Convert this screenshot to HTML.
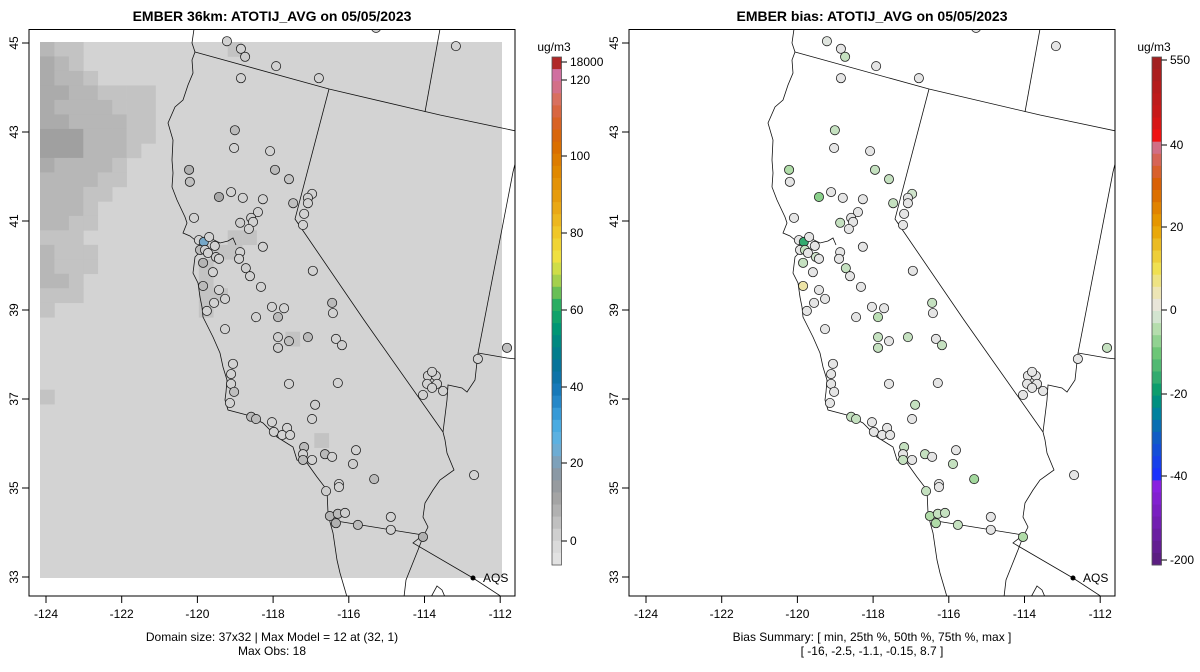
<!DOCTYPE html>
<html><head><meta charset="utf-8"><style>
body{margin:0;background:#fff}
svg{display:block;font-family:"Liberation Sans",sans-serif}
</style></head><body>
<svg id="root" width="1200" height="672" viewBox="0 0 1200 672" xmlns="http://www.w3.org/2000/svg">
<rect width="1200" height="672" fill="#fff"/>
</svg>
<script>
// ---- data ----
const siteLon=[-119.22,-118.85,-118.74,-117.92,-118.85,-116.79,-115.28,-113.17,-119.01,-119.03,-118.08,-117.95,-117.58,-120.22,-120.20,-119.43,-119.11,-118.80,-118.27,-117.47,-116.97,-117.08,-117.08,-117.18,-117.21,-118.40,-118.58,-118.53,-118.87,-118.64,-120.09,-119.96,-119.83,-119.69,-119.54,-119.93,-119.80,-119.72,-119.51,-119.43,-118.87,-118.90,-118.27,-119.85,-119.59,-118.72,-118.61,-116.95,-119.85,-119.43,-119.27,-119.56,-119.75,-118.32,-118.03,-117.71,-117.87,-118.45,-116.44,-116.42,-119.27,-117.87,-117.58,-117.87,-117.08,-116.34,-116.18,-119.06,-119.11,-119.11,-119.03,-119.14,-117.58,-116.29,-116.89,-116.97,-118.58,-118.45,-118.03,-117.98,-117.63,-117.76,-117.55,-117.18,-117.21,-117.21,-116.97,-116.63,-116.44,-115.81,-115.89,-115.33,-116.26,-116.26,-116.60,-116.50,-116.29,-116.10,-116.34,-115.76,-114.89,-114.89,-114.04,-114.04,-113.80,-113.91,-113.70,-113.93,-113.67,-113.80,-113.80,-113.51,-112.69,-112.59,-111.82];
const siteLat=[45.04,44.87,44.69,44.48,44.21,44.21,45.34,44.93,43.04,42.64,42.57,42.15,41.94,42.15,41.88,41.54,41.65,41.52,41.49,41.40,41.61,41.52,41.40,41.16,40.91,41.20,41.07,40.98,40.96,40.82,41.07,40.57,40.53,40.64,40.44,40.35,40.35,40.28,40.19,40.15,40.30,40.15,40.42,40.06,39.85,39.94,39.76,39.88,39.54,39.45,39.25,39.16,38.98,39.52,39.07,39.04,38.84,38.84,39.16,38.93,38.57,38.39,38.30,38.15,38.39,38.35,38.21,37.79,37.56,37.34,37.16,36.91,37.34,37.36,36.87,36.55,36.60,36.55,36.48,36.26,36.35,36.19,36.19,35.92,35.76,35.63,35.63,35.76,35.70,35.85,35.54,35.20,35.09,35.02,34.93,34.37,34.42,34.44,34.21,34.17,34.35,34.06,33.90,37.09,37.43,37.52,37.52,37.34,37.34,37.61,37.25,37.18,35.29,37.90,38.15];
const obsVal=[1,1,2,1,1,1,1,1,6,1,1,6,4,8,5,10,1,1,1,5,1,1,1,1,1,1,1,1,2,1,1,1,22,1,1,6,2,1,2,1,1,1,1,7,1,2,1,1,6,1,1,1,1,1,1,1,6,1,6,1,1,2,5,2,6,1,2,1,1,1,5,1,1,1,2,1,6,6,1,1,1,1,1,6,1,6,1,6,1,1,2,6,1,1,2,7,6,2,8,6,1,1,8,1,1,1,1,1,1,1,1,1,1,1,5];
const biasVal=[-0.5,0,-3,0,0,0,0,0,-3,0,0,-3,-3,-5,0,-8,0,0,0,-3,-2,0,0,0,0,0,0,0,-3,0,0,0,-16,0,0,0,-3,0,-2,0,0,0,0,-3,0,-3,0,0,5,0,0,0,0,0,0,0,-4,0,-3,0,0,-3,0,-3,-3,0,-3,0,0,0,0,0,0,0,-3,0,-3,-3,0,0,0,0,0,-3,0,-3,0,-3,0,0,-3,-6,0,0,-3,-5,-3,-3,-5,-3,0,0,-5,0,0,0,0,0,0,0,0,0,0,0,-3];
const rasterRows=["211","321","3221","33221111","32222111","33222211","44422211","4442221","322221","222211","22211","2221","2211","111","2111","2111","221","111","1","","","","","","1"];
const rasterExtra=[[0,13,1],[13,13,1],[13,14,1],[14,13,1],[15,11,1],[16,11,1],[17,11,1],[18,11,1],[17,12,1],[20,17,1],[27,19,1],[14,12,1]];
const latTicks=[33,35,37,39,41,43,45];
const lonTicks=[-124,-122,-120,-118,-116,-114,-112];
const obsBarTicks=[0,20,40,60,80,100,120];
const biasBarTicks=[-200,-40,-20,0,20,40,550];

// ---- helpers ----
const NS="http://www.w3.org/2000/svg";
const root=document.getElementById('root');
function mk(tag,attrs,parent){const e=document.createElementNS(NS,tag);for(const k in attrs)e.setAttribute(k,attrs[k]);(parent||root).appendChild(e);return e;}
function X(lon){return 46+(lon+124)*37.85;}
function Y(lat){return 577-(lat-33)*44.5;}
function hex(c){return [parseInt(c.substr(1,2),16),parseInt(c.substr(3,2),16),parseInt(c.substr(5,2),16)];}
function interp(stops,v){
  if(v<=stops[0][0])return stops[0][1];
  if(v>=stops[stops.length-1][0])return stops[stops.length-1][1];
  for(let i=0;i<stops.length-1;i++){const a=stops[i],b=stops[i+1];if(v>=a[0]&&v<=b[0]){const t=(v-a[0])/(b[0]-a[0]);const A=hex(a[1]),B=hex(b[1]);return 'rgb('+A.map((x,j)=>Math.round(x+(B[j]-x)*t)).join(',')+')';}}
}
const obsStops=[[-6,'#e5e5e5'],[0,'#d6d6d6'],[4,'#c4c4c4'],[8,'#b0b0b0'],[12,'#a0a0a0'],[16,'#8f979e'],[20,'#7fa0b8'],[24,'#6aaed8'],[28,'#55b3e6'],[32,'#3ca0db'],[38,'#1a7cc0'],[44,'#0a70a0'],[50,'#008088'],[56,'#009a70'],[62,'#30b060'],[66,'#8cc850'],[70,'#c8dc48'],[74,'#f0e040'],[80,'#f0c828'],[88,'#e8a010'],[96,'#e08800'],[104,'#d86800'],[110,'#d86030'],[115,'#d87060'],[120,'#d070a0'],[130,'#b02828']];
const biasStops=[[-200,'#5a1e80'],[-60,'#8a20e0'],[-40,'#1a30ff'],[-30,'#1060c0'],[-25,'#0080a0'],[-20,'#00986c'],[-15,'#40b070'],[-10,'#70c878'],[-5,'#b0dca8'],[-2,'#d0e4cc'],[0,'#e5e5e5'],[3,'#ece6c8'],[10,'#f0e050'],[20,'#e8a000'],[30,'#d86000'],[35,'#d86040'],[40,'#d07090'],[45,'#e83050'],[50,'#ff1010'],[200,'#cc1818'],[550,'#a02020']];
const rasterColors=['#d3d3d3','#c3c3c3','#b7b7b7','#ababab','#a0a0a0'];

const coast=[[194,29],[192,43],[195,52],[192,60],[193,73],[188,85],[183,100],[175,107],[168,123],[173,140],[172,160],[173,173],[172,187],[177,200],[185,217],[187,223],[183,233],[190,236],[195,240],[200,246],[202,250],[197,255],[195,257],[193,273],[198,283],[200,297],[202,307],[203,317],[208,327],[213,337],[220,353],[223,367],[227,380],[226,392],[225,400],[228,410],[247,415],[263,423],[277,437],[293,447],[297,460],[307,463],[317,477],[327,490],[328,513],[330,522],[333,533],[337,560],[340,573],[345,590],[347,597]];
const lines=[coast,
 [[199,240],[210,238],[220,243],[228,241],[233,238],[236,245]],
 [[195,52],[329,89],[440,115],[516,131]],
 [[329,89],[295,219],[364,320],[443,432]],
 [[443,432],[445,440],[447,453],[454,470],[440,480],[433,490],[425,503],[423,517],[428,527],[423,537],[418,550],[412,565],[406,580],[404,597]],
 [[330,520],[423,535]],
 [[423,535],[413,543],[473,578],[502,597]],
 [[443,432],[447,400],[448,385],[462,388],[467,392],[475,380],[478,353],[513,172],[516,160]],
 [[478,353],[507,358],[516,359]],
 [[440,29],[425,112]],
 [[431,597],[437,586],[442,590],[445,597]]];

function panel(off,isObs){
  const g=mk('g',{transform:'translate('+off+',0)'});
  
  
  const cid='clip'+off;
  const cp=mk('clipPath',{id:cid},g);mk('rect',{x:29,y:29.5,width:486,height:566.5},cp);
  const inner=mk('g',{'clip-path':'url(#'+cid+')'},g);
  if(isObs){
    const rg=mk('g',{},inner);
    
    
    const x0=40,y0=42,cw=(502-40)/32,ch=(578-42)/37;
    mk('rect',{x:x0,y:y0,width:462,height:536,fill:rasterColors[0]},rg);
    const cell=(r,c,l)=>{const e=mk('rect',{x:x0+c*cw,y:y0+r*ch,width:cw+0.3,height:ch+0.3,fill:rasterColors[l]},rg);};
    rasterRows.forEach((s,r)=>{for(let c=0;c<s.length;c++){const l=+s[c];if(l>0)cell(r,c,l);}});
    rasterExtra.forEach(a=>cell(a[0],a[1],a[2]));
  }
  lines.forEach(p=>{const e=mk('polyline',{points:p.map(q=>q.join(',')).join(' '),fill:'none',stroke:'#111','stroke-width':0.8},inner);});
  const vals=isObs?obsVal:biasVal;
  for(let i=0;i<siteLon.length;i++){
    const c=mk('circle',{cx:X(siteLon[i]),cy:Y(siteLat[i]),r:4.6,fill:isObs?interp(obsStops,vals[i]):interp(biasStops,vals[i]),stroke:'#222','stroke-width':0.8},inner);
    
    
  }
  const aq=mk('circle',{cx:473,cy:578,r:2.5,fill:'#000'},inner);
  
  const at=mk('text',{x:483,y:582,'font-size':12,fill:'#000'},inner);at.textContent='AQS';
  
  const box=mk('rect',{x:29,y:29.5,width:486,height:566.5,fill:'none',stroke:'#000','stroke-width':1},g);
  
  const ax=mk('g',{},g);
  mk('line',{x1:X(-124),x2:X(-112),y1:596,y2:596,stroke:'#000'},ax);
  lonTicks.forEach(v=>{mk('line',{x1:X(v),x2:X(v),y1:596,y2:603,stroke:'#000'},ax);const t=mk('text',{x:X(v),y:618,'font-size':12,'text-anchor':'middle'},ax);t.textContent=String(v);});
  const ay=mk('g',{},g);
  mk('line',{x1:29,x2:29,y1:Y(33),y2:Y(45),stroke:'#000'},ay);
  latTicks.forEach(v=>{mk('line',{x1:22,x2:29,y1:Y(v),y2:Y(v),stroke:'#000'},ay);const t=mk('text',{x:0,y:0,'font-size':12,'text-anchor':'middle',transform:'translate(18,'+Y(v)+') rotate(-90)'},ay);t.textContent=v;});
  const ti=mk('text',{x:272,y:21,'font-size':14,'font-weight':'bold','text-anchor':'middle'},g);
  ti.textContent=isObs?'EMBER 36km: ATOTIJ_AVG on 05/05/2023':'EMBER bias: ATOTIJ_AVG on 05/05/2023';
  
  const s1=mk('text',{x:272,y:641,'font-size':12,'text-anchor':'middle'},g);
  const s2=mk('text',{x:272,y:655,'font-size':12,'text-anchor':'middle','xml:space':'preserve'},g);
  if(isObs){s1.textContent='Domain size: 37x32 | Max Model = 12 at (32, 1)';s2.textContent='Max Obs: 18';}
  else{s1.textContent='Bias Summary: [ min, 25th %, 50th %, 75th %, max ]';s2.textContent='[ -16,   -2.5,   -1.1,   -0.15,   8.7 ]';}
  
  
  const cb=mk('g',{},g);
  const tv=isObs?[0,20,40,60,80,100,120,18000]:biasBarTicks;
  const ty=isObs?[541,463,387,310,233,156,80,62]:[560,476,394,310,227,145,60];
  function yToVal(y){for(let i=0;i<ty.length-1;i++){if(y<=ty[i]&&y>=ty[i+1]){return tv[i]+(tv[i+1]-tv[i])*(ty[i]-y)/(ty[i]-ty[i+1]);}}
    if(y>ty[0])return tv[0]-(y-ty[0])*(tv[1]-tv[0])/(ty[0]-ty[1]);
    return isObs?200:tv[tv.length-1];}
  const top=57,bot=565,n=42,h=(bot-top)/n;
  for(let k=0;k<n;k++){const yc=top+h*(k+0.5);let v=yToVal(yc);if(isObs&&yc<80&&yc>=71)v=120;if(isObs&&yc<71)v=130;
    const r=mk('rect',{x:552,y:top+h*k,width:9.5,height:h+0.4,fill:isObs?interp(obsStops,v):interp(biasStops,v)},cb);}
  mk('rect',{x:552,y:top,width:9.5,height:bot-top,fill:'none',stroke:'#555','stroke-width':0.8},cb);
  const lbl=isObs?['0','20','40','60','80','100','120','18000']:biasBarTicks.map(String);
  ty.forEach((y,i)=>{mk('line',{x1:561.5,x2:567,y1:y,y2:y,stroke:'#000'},cb);const t=mk('text',{x:570,y:y+4,'font-size':12},cb);t.textContent=lbl[i];});
  const u=mk('text',{x:554,y:51,'font-size':12,'text-anchor':'middle'},cb);u.textContent='ug/m3';
}
panel(0,true);
panel(600,false);
</script>
</body></html>
